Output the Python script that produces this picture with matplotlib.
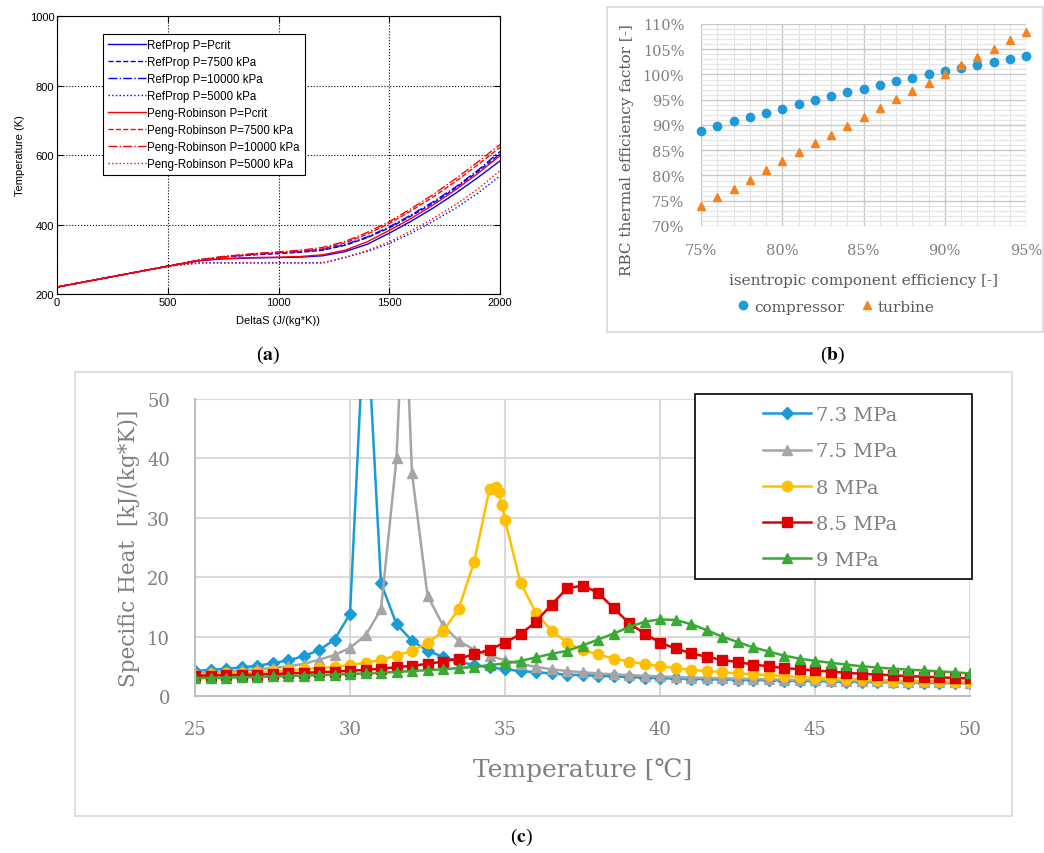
import matplotlib
matplotlib.use('Agg')
import matplotlib.pyplot as plt
from matplotlib.patches import Rectangle
from matplotlib.ticker import MultipleLocator, FuncFormatter

plt.rcParams['mathtext.fontset'] = 'stix'

# ---------- (a) data ----------
delta_s = [0, 250, 500, 650, 750, 900, 1000, 1100, 1200, 1300, 1400, 1500, 1600, 1700, 1800, 1900, 2000]
rp_crit = [220, 250, 280, 296, 301, 304, 305, 306, 310, 322, 343, 375, 410, 448, 490, 535, 583]
rp_7500 = [220, 250, 280, 298, 306, 313, 316, 320, 326, 340, 362, 390, 425, 462, 505, 552, 603]
rp_10000 = [220, 250, 280, 299, 307, 315, 319, 322, 328, 342, 364, 393, 428, 466, 508, 556, 610]
rp_5000 = [220, 250, 280, 290, 290, 290, 290, 290, 290, 305, 322, 345, 375, 410, 447, 490, 540]
pr_crit = [220, 250, 280, 297, 302, 305, 306, 308, 313, 326, 350, 383, 418, 457, 500, 547, 598]
pr_7500 = [220, 250, 280, 298, 307, 315, 318, 323, 330, 347, 372, 403, 440, 480, 524, 572, 622]
pr_10000 = [220, 250, 280, 299, 308, 317, 321, 326, 334, 351, 377, 408, 446, 487, 532, 580, 630]
pr_5000 = [220, 250, 280, 289, 289, 289, 289, 289, 289, 305, 325, 350, 382, 418, 457, 502, 555]

# ---------- (b) data ----------
eff = [75, 76, 77, 78, 79, 80, 81, 82, 83, 84, 85, 86, 87, 88, 89, 90, 91, 92, 93, 94, 95]
compressor = [88.8, 89.8, 90.7, 91.5, 92.4, 93.2, 94.1, 94.9, 95.7, 96.5, 97.2, 97.9, 98.7,
              99.4, 100.0, 100.6, 101.3, 101.9, 102.5, 103.1, 103.7]
turbine = [73.9, 75.7, 77.4, 79.2, 81.0, 82.8, 84.6, 86.4, 88.1, 89.9, 91.6, 93.3, 95.1,
           96.7, 98.3, 100.0, 101.8, 103.4, 105.1, 106.8, 108.4]

# ---------- (c) data ----------
t_base = [25.0, 25.5, 26.0, 26.5, 27.0, 27.5, 28.0, 28.5, 29.0, 29.5, 30.0, 30.5, 31.0, 31.5,
          32.0, 32.5, 33.0, 33.5, 34.0, 34.5, 35.0, 35.5, 36.0, 36.5, 37.0, 37.5, 38.0, 38.5,
          39.0, 39.5, 40.0, 40.5, 41.0, 41.5, 42.0, 42.5, 43.0, 43.5, 44.0, 44.5, 45.0, 45.5,
          46.0, 46.5, 47.0, 47.5, 48.0, 48.5, 49.0, 49.5, 50.0]
t_75 = t_base[:14] + [31.75] + t_base[14:]
t_80 = t_base[:20] + [34.7, 34.8, 34.9] + t_base[20:]

cp_73 = [4.2, 4.4, 4.6, 4.8, 5.1, 5.5, 6.0, 6.7, 7.7, 9.5, 13.8, 68.0, 19.0, 12.1, 9.3, 7.6,
         6.6, 5.8, 5.2, 4.8, 4.5, 4.2, 4.0, 3.8, 3.6, 3.5, 3.4, 3.3, 3.2, 3.1, 3.0, 2.95, 2.9,
         2.85, 2.8, 2.75, 2.7, 2.65, 2.6, 2.55, 2.5, 2.45, 2.4, 2.38, 2.35, 2.3, 2.27, 2.24,
         2.2, 2.18, 2.15]
cp_75 = [3.9, 4.0, 4.1, 4.3, 4.5, 4.7, 5.0, 5.4, 6.1, 6.9, 8.1, 10.2, 14.6, 40.0, 70.0, 37.5,
         16.9, 11.9, 9.3, 7.8, 6.8, 6.0, 5.4, 4.9, 4.5, 4.2, 4.0, 3.8, 3.65, 3.5, 3.4, 3.3,
         3.2, 3.1, 3.05, 3.0, 2.9, 2.85, 2.8, 2.75, 2.7, 2.65, 2.6, 2.55, 2.5, 2.45, 2.4,
         2.38, 2.35, 2.3, 2.28, 2.25]
cp_80 = [3.6, 3.7, 3.8, 3.9, 4.0, 4.15, 4.3, 4.5, 4.7, 4.9, 5.2, 5.6, 6.1, 6.8, 7.6, 8.9,
         10.9, 14.6, 22.5, 34.8, 35.2, 34.3, 32.2, 29.6, 19.1, 14.0, 11.0, 9.0, 7.7, 7.0, 6.3,
         5.8, 5.4, 5.0, 4.7, 4.4, 4.2, 4.0, 3.8, 3.65, 3.5, 3.35, 3.2, 3.1, 3.0, 2.9, 2.8,
         2.7, 2.6, 2.55, 2.5, 2.45, 2.4, 2.35]
cp_85 = [3.4, 3.45, 3.5, 3.55, 3.6, 3.7, 3.8, 3.9, 4.0, 4.1, 4.25, 4.4, 4.6, 4.85, 5.1, 5.4,
         5.8, 6.3, 7.0, 7.8, 9.0, 10.4, 12.5, 15.4, 18.1, 18.6, 17.4, 14.8, 12.3, 10.5, 9.0,
         8.0, 7.2, 6.6, 6.1, 5.7, 5.3, 5.0, 4.7, 4.5, 4.3, 4.1, 3.9, 3.75, 3.6, 3.5, 3.35,
         3.25, 3.15, 3.05, 2.95]
cp_90 = [3.0, 3.05, 3.1, 3.15, 3.2, 3.3, 3.35, 3.45, 3.5, 3.6, 3.7, 3.8, 3.9, 4.05, 4.2, 4.35,
         4.5, 4.7, 4.9, 5.2, 5.5, 5.9, 6.5, 7.1, 7.6, 8.5, 9.5, 10.5, 11.6, 12.5, 12.9, 12.8,
         12.1, 11.1, 10.0, 9.1, 8.2, 7.5, 6.8, 6.3, 5.9, 5.6, 5.3, 5.0, 4.8, 4.6, 4.45, 4.3,
         4.15, 4.0, 3.8]
pressure_labels = ['7.3 MPa', '7.5 MPa', '8 MPa', '8.5 MPa', '9 MPa']

serif = ['DejaVu Serif', 'Noto Sans CJK SC']
gray_txt = '#7f7f7f'

fig = plt.figure(figsize=(10.44, 8.54), dpi=100)

# ================= (a) =================
ax1 = fig.add_axes([57 / 1044, 1 - 295 / 854, 443 / 1044, 278 / 854])
sty = [('-', rp_crit, 'b', 'RefProp P=Pcrit'),
       ('--', rp_7500, 'b', 'RefProp P=7500 kPa'),
       ('-.', rp_10000, 'b', 'RefProp P=10000 kPa'),
       (':', rp_5000, 'b', 'RefProp P=5000 kPa'),
       ('-', pr_crit, 'r', 'Peng-Robinson P=Pcrit'),
       ('--', pr_7500, 'r', 'Peng-Robinson P=7500 kPa'),
       ('-.', pr_10000, 'r', 'Peng-Robinson P=10000 kPa'),
       (':', pr_5000, 'r', 'Peng-Robinson P=5000 kPa')]
for ls, vals, c, lab in sty:
    ax1.plot(delta_s, vals, ls, color=c, lw=1, label=lab)
ax1.set_xlim(0, 2000)
ax1.set_ylim(200, 1000)
ax1.set_xticks([0, 500, 1000, 1500, 2000])
ax1.set_yticks([200, 400, 600, 800, 1000])
ax1.grid(True, color='k', ls=':', lw=0.8)
ax1.tick_params(direction='in', top=True, right=True, labelsize=8, length=4, pad=2)
for lbl in ax1.get_xticklabels() + ax1.get_yticklabels():
    lbl.set_family('Liberation Sans')
ax1.set_xlabel('DeltaS (J/(kg*K))', fontsize=8, family='Liberation Sans', labelpad=6)
ax1.set_ylabel('Temperature (K)', fontsize=8, family='Liberation Sans', labelpad=3)
leg1 = ax1.legend(loc='upper left', bbox_to_anchor=(0.104, 0.935), borderaxespad=0,
                  fancybox=False, edgecolor='k', framealpha=1,
                  prop={'family': 'Liberation Sans', 'size': 8.3},
                  handlelength=3.3, handletextpad=0.1, labelspacing=0.43, borderpad=0.45)
leg1.get_frame().set_linewidth(0.8)

# ================= (b) =================
fig.patches.append(Rectangle((607 / 1044, 1 - 333 / 854), 436 / 1044, 325 / 854,
                             transform=fig.transFigure, fill=False, ec='#d9d9d9', lw=1.2))
ax2 = fig.add_axes([701 / 1044, 1 - 227 / 854, 325 / 1044, 202 / 854])
ax2.plot(eff, compressor, 'o', color='#1f9ad8', ms=6, clip_on=False, label='compressor')
ax2.plot(eff, turbine, '^', color='#f5821f', ms=6, clip_on=False, label='turbine')
ax2.set_xlim(75, 95)
ax2.set_ylim(70, 110)
ax2.xaxis.set_major_locator(MultipleLocator(5))
ax2.xaxis.set_minor_locator(MultipleLocator(1))
ax2.yaxis.set_major_locator(MultipleLocator(5))
ax2.yaxis.set_minor_locator(MultipleLocator(1))
pct = FuncFormatter(lambda v, p: '{:.0f}%'.format(v))
ax2.xaxis.set_major_formatter(pct)
ax2.yaxis.set_major_formatter(pct)
ax2.grid(True, which='major', color='#c8c8c8', lw=1)
ax2.grid(True, which='minor', color='#e4e4e4', lw=0.8)
ax2.set_axisbelow(True)
for s in ax2.spines.values():
    s.set_visible(False)
ax2.tick_params(which='both', length=0, labelsize=10.5, labelcolor=gray_txt, pad=12)
for lbl in ax2.get_xticklabels() + ax2.get_yticklabels():
    lbl.set_family(serif)
ax2.set_xlabel('isentropic component efficiency [-]', fontsize=11, color='#595959',
               family=serif, labelpad=12)
ax2.set_ylabel('RBC thermal efficiency factor [-]', fontsize=11, color='#595959',
               family=serif)
ax2.yaxis.set_label_coords(-0.206, 0.38)
ax2.legend(loc='center', bbox_to_anchor=(0.41, -0.40), ncol=2, frameon=False,
           prop={'family': serif, 'size': 11}, labelcolor='#595959',
           handletextpad=0.1, columnspacing=0.9, handlelength=1.2)

# ================= (c) =================
fig.patches.append(Rectangle((75 / 1044, 1 - 817 / 854), 937 / 1044, 444 / 854,
                             transform=fig.transFigure, fill=False, ec='#d9d9d9', lw=1.2))
ax3 = fig.add_axes([195 / 1044, 1 - 697 / 854, 775 / 1044, 297 / 854])
series = [(t_base, cp_73, '#1a9ad6', 'D', 6),
          (t_75, cp_75, '#a5a5a5', '^', 7.5),
          (t_80, cp_80, '#ffc000', 'o', 7.5),
          (t_base, cp_85, '#e00000', 's', 7),
          (t_base, cp_90, '#3aaa35', '^', 7.5)]
handles = []
for (tx, vals, col, mk, ms), lab in zip(series, pressure_labels):
    h, = ax3.plot(tx, vals, color=col, marker=mk, ms=ms, lw=1.8, label=lab)
    handles.append(h)
ax3.set_xlim(25, 50)
ax3.set_ylim(0, 50)
ax3.xaxis.set_major_locator(MultipleLocator(5))
ax3.yaxis.set_major_locator(MultipleLocator(10))
ax3.grid(True, color='#d9d9d9', lw=1.5)
ax3.set_axisbelow(True)
for k in ['top', 'right']:
    ax3.spines[k].set_visible(False)
for k in ['left', 'bottom']:
    ax3.spines[k].set_color('#bfbfbf')
    ax3.spines[k].set_linewidth(1.5)
ax3.tick_params(length=0, labelsize=13, labelcolor=gray_txt)
ax3.tick_params(axis='y', pad=18)
ax3.tick_params(axis='x', pad=17)
for lbl in ax3.get_xticklabels() + ax3.get_yticklabels():
    lbl.set_family(serif)
ax3.set_xlabel('Temperature [\u2103]', fontsize=18, color=gray_txt, family=serif, labelpad=14)
ax3.set_ylabel('Specific Heat  [kJ/(kg*K)]', fontsize=15.5, color=gray_txt, family=serif,
               labelpad=5)
ax3.add_patch(Rectangle((0.645, 0.394), 0.358, 0.623, transform=ax3.transAxes,
                        facecolor='white', edgecolor='k', lw=1.2, clip_on=False, zorder=5))
leg3 = ax3.legend(handles=handles, loc='upper left', bbox_to_anchor=(0.71, 1.035),
                  frameon=False, prop={'family': serif, 'size': 14}, labelcolor=gray_txt,
                  handlelength=2.5, handletextpad=0.25, labelspacing=0.94)
leg3.set_zorder(6)

# panel letters
for x, y, t in [(268, 355, 'a'), (833, 355, 'b'), (521, 837, 'c')]:
    fig.text(x / 1044, 1 - y / 854, '($\\mathbf{' + t + '}$)', ha='center', va='center',
             fontsize=14, family='Liberation Serif')

fig.savefig('out.png', dpi=100)
